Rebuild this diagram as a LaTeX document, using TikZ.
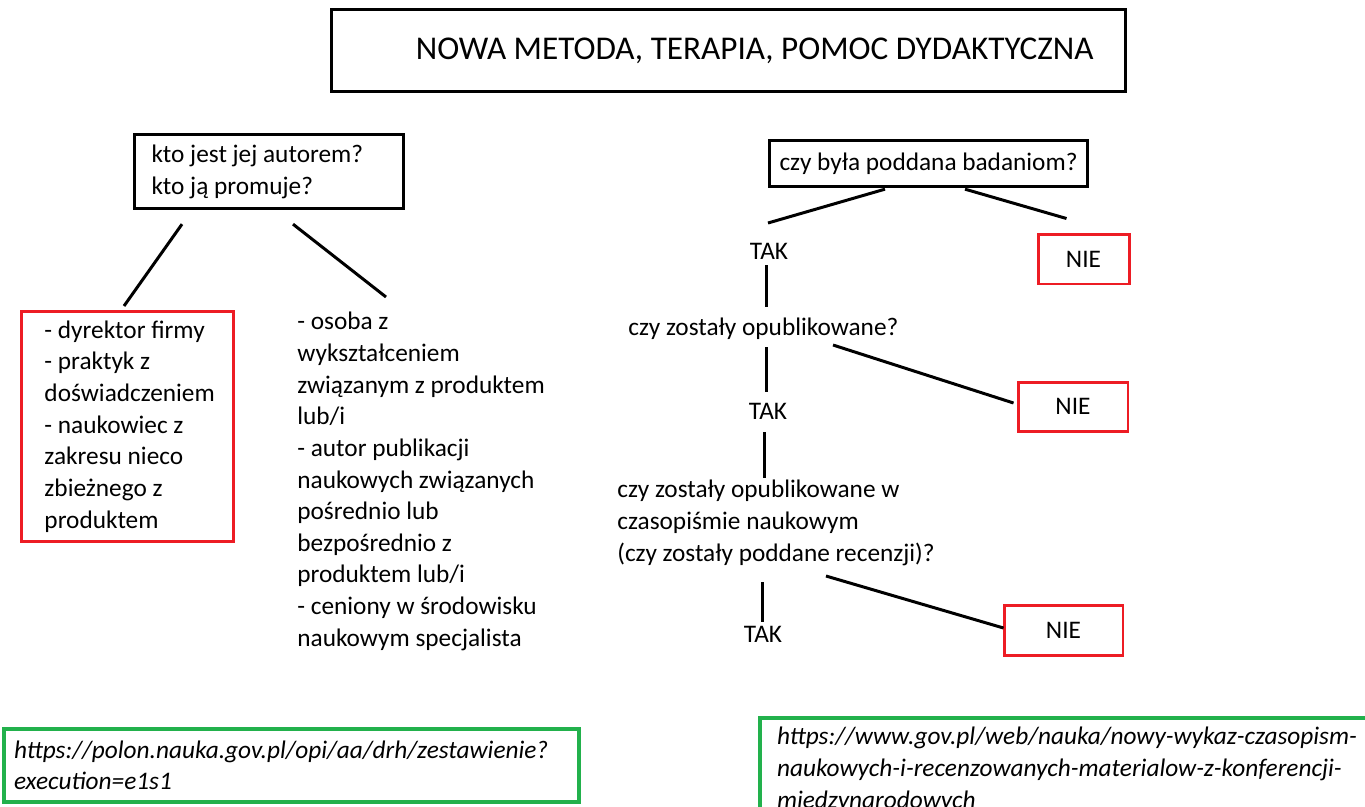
\documentclass[tikz,border=0pt]{standalone}
\usepackage{fontspec}
\setmainfont{Carlito}
\usetikzlibrary{positioning}
\definecolor{boxred}{RGB}{237,28,36}
\definecolor{boxgreen}{RGB}{34,177,76}
\hyphenpenalty=10000

\begin{document}
\begin{tikzpicture}[x=0.02cm, y=-0.02cm,
  txt/.style = {font=\fontsize{14.4}{18}\selectfont, inner sep=0pt, align=left},
  blackbox/.style = {draw, line width=1.8pt, font=\fontsize{14.4}{18}\selectfont, anchor=north west},
  redbox/.style = {draw=boxred, line width=1.7pt, font=\fontsize{14.4}{18}\selectfont},
  linkbox/.style = {draw=boxgreen, line width=2.3pt, font=\fontsize{14.4}{17.5}\selectfont\itshape, align=flush left, anchor=north west},
  branch/.style = {line width=1.7pt}]
  \clip (0,0) rectangle (1365,806);

  % title
  \node[blackbox, font=\fontsize{18.9}{22}\selectfont, text width=14.6cm, inner xsep=0.64cm,
        minimum height=1.64cm, align=flush right] (title) at (330,8) {NOWA METODA, TERAPIA, POMOC DYDAKTYCZNA};

  % left part: who
  \node[blackbox, text width=4.7cm, inner xsep=0.34cm, minimum height=1.48cm, align=flush left] (autor) at (133,133)
    {kto jest jej autorem?\\kto ją promuje?};
  \node[redbox, anchor=north west, text width=3.32cm, inner xsep=0.46cm, minimum height=4.6cm, align=flush left] (firma) at (20,310)
    {- dyrektor firmy\\- praktyk z\\doświadczeniem\\- naukowiec z\\zakresu nieco\\zbieżnego z\\produktem};
  \node[txt, anchor=north west] (ekspert) at (297,312)
    {- osoba z\\wykształceniem\\związanym z produktem\\lub/i\\- autor publikacji\\naukowych związanych\\pośrednio lub\\bezpośrednio z\\produktem lub/i\\- ceniony w środowisku\\naukowym specjalista};

  \draw[branch] ([shift={(49,14)}]autor.south west) -- ([shift={(104,-4)}]firma.north west);
  \draw[branch] ([shift={(160,14)}]autor.south west) -- ([shift={(89,-15)}]ekspert.north west);

  % right part: research
  \node[blackbox, minimum width=6.36cm, inner xsep=0.1cm, inner ysep=0.1cm, minimum height=0.92cm] (badania) at (768,139)
    {czy była poddana badaniom?};
  \node[txt] (tak1) at (769,251) {TAK};
  \node[redbox, minimum width=1.82cm, minimum height=1cm] (nie1) at (1083.5,259) {NIE};
  \node[txt, anchor=base west] (publ) at (628,335) {czy zostały opublikowane?};
  \node[txt] (tak2) at (768,411) {TAK};
  \node[redbox, minimum width=2.2cm, minimum height=0.98cm] (nie2) at (1073,406.5) {NIE};
  \node[txt, anchor=north west] (recenzja) at (617,480)
    {czy zostały opublikowane w\\czasopiśmie naukowym\\(czy zostały poddane recenzji)?};
  \node[txt] (tak3) at (763,634) {TAK};
  \node[redbox, minimum width=2.38cm, minimum height=1cm] (nie3) at (1063.5,630) {NIE};

  \draw[branch] ([shift={(117,1)}]badania.south west) -- ([shift={(-1,-28)}]tak1.center);
  \draw[branch] ([shift={(197,1)}]badania.south west) -- ([shift={(30,-14)}]nie1.north west);
  \draw[branch] ([shift={(-3,14)}]tak1.center) -- ([shift={(138,-28)}]publ.base west);
  \draw[branch] ([shift={(138,12)}]publ.base west) -- ([shift={(-2,-19)}]tak2.center);
  \draw[branch] ([shift={(205,10)}]publ.base west) -- ([shift={(-3,-3.5)}]nie2.west);
  \draw[branch] ([shift={(-4,21)}]tak2.center) -- ([shift={(147,-2)}]recenzja.north west);
  \draw[branch] ([shift={(145,102)}]recenzja.north west) -- ([shift={(-1,-12)}]tak3.center);
  \draw[branch] ([shift={(209,96)}]recenzja.north west) -- ([shift={(1,-2)}]nie3.west);

  % links
  \node[linkbox, text width=11.1cm, inner xsep=0.2cm, minimum height=1.46cm] (polon) at (2,727)
    {https://polon.nauka.gov.pl/opi/aa/drh/zestawienie?\\execution=e1s1};
  \node[linkbox, font=\fontsize{14.4}{18.2}\selectfont\itshape, text width=12cm, inner xsep=0.34cm, minimum height=2.08cm] (wykaz) at (758,716)
    {https://www.gov.pl/web/nauka/nowy-wykaz-czasopism-\\naukowych-i-recenzowanych-materialow-z-konferencji-\\miedzynarodowych};
\end{tikzpicture}
\end{document}
